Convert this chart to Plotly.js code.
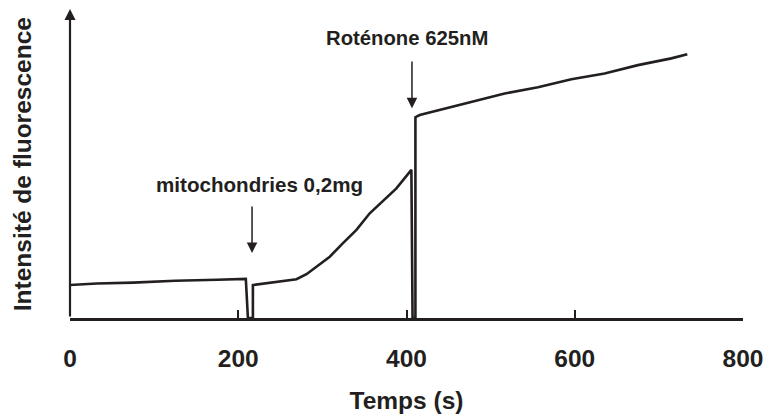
<!DOCTYPE html>
<html>
<head>
<meta charset="utf-8">
<script src="https://cdn.plot.ly/plotly-3.0.1.min.js"></script>
<style>html,body{margin:0;padding:0;background:#fff;}#chart{width:766px;height:417px;}</style>
</head>
<body>
<div id="chart"></div>
<script>
// Time (s) and fluorescence intensity (arbitrary units, 0 = x axis)
const time = [0, 32, 75, 125, 175, 209, 211.5, 217.4, 217.4, 233.5, 253.2, 269.2, 281.1, 292.9, 308.8, 324.5, 340.5, 356.3, 372.1, 388.0, 405.8, 407.2, 410.6, 410.6, 415.7, 437.4, 477.1, 516.7, 556.3, 596.0, 635.5, 675.1, 714.8, 733.8];
const fluo = [10.7, 11.2, 11.5, 12.1, 12.4, 12.7, 0, 0, 10.7, 11.3, 11.8, 12.6, 14.2, 16.5, 19.9, 24.3, 28.6, 34.0, 38.1, 42.1, 48.1, 0, 0, 65.2, 65.9, 67.4, 70.2, 72.9, 74.9, 77.5, 79.4, 82.1, 84.3, 85.6];
const xTicks = [0, 200, 400, 600, 800];
const xTickLabels = ['0', '200', '400', '600', '800'];
const labelMito = 'mitochondries 0,2mg';
const labelRot = 'Roténone 625nM';
// Annotation anchors (data coords)
const mitoArrow = {t: 216.4, from: 36.7, to: 21.1, labelT: 225.5, labelY: 43.2};
const rotArrow = {t: 406.5, from: 83.8, to: 68.1, labelT: 400.8, labelY: 91.0};

const ink = '#231f20';
const font = 'Liberation Sans, Arial, sans-serif';

const trace = {
  x: time, y: fluo, type: 'scatter', mode: 'lines',
  line: {color: ink, width: 2.6}, hoverinfo: 'skip', showlegend: false
};

const layout = {
  width: 766, height: 417,
  margin: {l: 70, r: 23, t: 10, b: 99},
  paper_bgcolor: '#fff', plot_bgcolor: '#fff',
  font: {family: font, color: ink},
  xaxis: {
    range: [0, 800], tickvals: xTicks, ticktext: xTickLabels,
    ticks: 'inside', ticklen: 8, tickwidth: 2, tickcolor: ink,
    showline: true, linewidth: 2.5, linecolor: ink,
    showgrid: false, zeroline: false,
    tickfont: {size: 24.5, family: font, color: ink, weight: 'bold'},
    ticklabelstandoff: 17,
    title: {text: '<b>Temps (s)</b>', font: {size: 24.5, family: font, color: ink}, standoff: 21}
  },
  yaxis: {
    range: [0, 100], showline: false, showticklabels: false, ticks: '',
    showgrid: false, zeroline: false,
    title: {text: ''}
  },
  annotations: [
    {xref: 'x', yref: 'y', axref: 'x', ayref: 'y', x: 0, y: 100.3, ax: 0, ay: 0,
     text: '', showarrow: true, arrowhead: 2, arrowsize: 1, arrowwidth: 2.2, arrowcolor: ink},
    {xref: 'paper', yref: 'y', x: -0.071, y: 50, xanchor: 'center', yanchor: 'middle',
     text: '<b>Intensité de fluorescence</b>', textangle: -90, showarrow: false,
     font: {size: 24.5, family: font, color: ink}},
    {xref: 'x', yref: 'y', x: mitoArrow.labelT, y: mitoArrow.labelY, text: '<b>' + labelMito + '</b>',
     showarrow: false, font: {size: 20.6, family: font, color: ink}},
    {xref: 'x', yref: 'y', axref: 'x', ayref: 'y', x: mitoArrow.t, y: mitoArrow.to, ax: mitoArrow.t, ay: mitoArrow.from,
     text: '', showarrow: true, arrowhead: 2, arrowsize: 1.4, arrowwidth: 1.5, arrowcolor: ink},
    {xref: 'x', yref: 'y', x: rotArrow.labelT, y: rotArrow.labelY, text: '<b>' + labelRot + '</b>',
     showarrow: false, font: {size: 20.3, family: font, color: ink}},
    {xref: 'x', yref: 'y', axref: 'x', ayref: 'y', x: rotArrow.t, y: rotArrow.to, ax: rotArrow.t, ay: rotArrow.from,
     text: '', showarrow: true, arrowhead: 2, arrowsize: 1.4, arrowwidth: 1.5, arrowcolor: ink}
  ]
};

Plotly.newPlot('chart', [trace], layout, {displayModeBar: false, staticPlot: true});
</script>
</body>
</html>
